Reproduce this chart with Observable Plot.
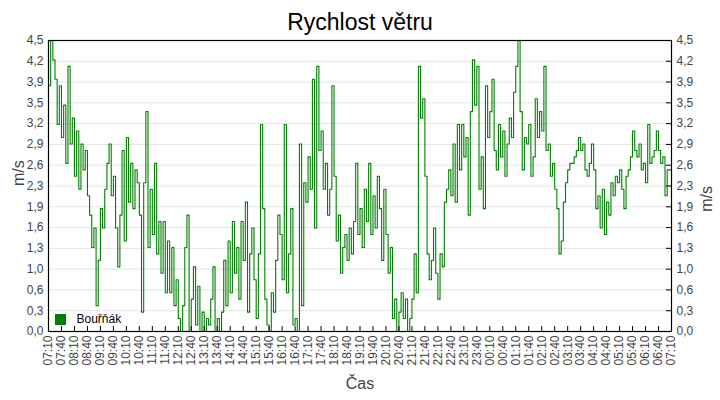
<!DOCTYPE html>
<html>
<head>
<meta charset="utf-8">
<script src="https://cdn.jsdelivr.net/npm/d3@7"></script>
<script src="https://cdn.jsdelivr.net/npm/@observablehq/plot@0.6"></script>
<style>
  body { margin: 0; background: #fff; }
  #chart { width: 720px; height: 400px; }
</style>
</head>
<body>
<div id="chart"></div>
<script>
const title = "Rychlost větru";
const seriesName = "Bouřňák";
const yLabel = "m/s";
const xLabel = "Čas";
const startTime = Date.UTC(2020, 0, 1, 7, 10);
const stepMinutes = 5;

// Wind speed every 5 minutes from 07:10 to 07:10 next day (m/s)
const speeds = [
  3.8,4.5,4.2,3.9,3.2,3.8,3.0,3.5,2.6,4.1,2.9,3.3,
  2.4,3.1,2.2,2.9,2.5,2.8,2.1,1.8,1.3,1.6,0.4,1.1,
  1.9,1.6,2.2,2.6,2.9,2.1,2.4,1.6,1.0,1.8,2.8,1.4,
  3.0,2.0,2.6,1.9,2.5,2.3,1.8,0.3,2.3,3.4,1.3,2.2,
  1.5,2.6,1.2,1.7,0.9,1.7,0.6,1.4,0.6,1.3,0.4,0.8,
  0.2,0.0,0.4,1.3,1.8,0.0,0.5,1.0,0.1,0.7,0.0,0.3,
  0.0,0.2,0.1,0.5,1.0,0.0,0.2,0.0,0.3,1.1,0.4,1.4,
  0.6,1.7,0.9,1.3,0.5,1.7,1.1,2.0,0.3,1.2,1.6,0.8,
  0.2,1.2,3.2,1.9,0.5,0.1,0.0,0.6,0.3,1.1,1.8,1.5,
  0.8,3.2,0.6,1.2,1.9,0.1,0.2,0.0,2.9,0.4,2.3,2.0,
  2.7,2.2,3.9,1.6,4.1,2.8,3.1,2.2,2.6,1.8,2.2,3.8,
  2.4,1.4,1.8,0.9,1.3,1.5,1.1,1.6,1.2,1.7,2.6,1.5,
  1.9,1.3,2.2,1.7,2.6,1.5,2.1,1.6,2.4,1.9,1.1,2.2,
  1.5,0.9,1.3,0.2,0.5,0.0,0.3,0.6,0.2,0.5,0.0,0.2,
  0.5,1.2,0.6,4.1,3.3,3.6,2.4,1.2,0.8,1.1,1.6,0.9,
  0.5,1.2,1.0,2.0,2.2,2.5,2.1,2.9,2.0,3.2,2.5,3.2,
  2.7,3.0,1.8,3.4,4.2,3.5,4.1,2.2,2.7,1.9,3.8,3.0,
  3.4,3.9,2.8,2.5,3.2,2.7,3.1,2.4,2.9,3.3,3.0,3.7,
  4.1,4.5,3.4,2.5,3.0,2.9,3.2,2.4,2.7,3.6,3.0,3.4,
  3.1,4.1,2.8,2.9,2.4,2.6,2.2,1.9,1.2,1.4,2.0,2.3,
  2.5,2.6,2.6,2.7,2.8,3.0,2.8,2.9,2.5,2.4,2.6,2.9,
  2.5,1.9,2.1,1.6,2.2,1.5,2.0,1.8,2.3,2.1,2.4,2.3,
  2.5,2.2,1.9,2.4,2.5,2.7,3.1,2.8,2.7,2.9,2.5,2.6,
  2.3,3.2,2.6,2.7,2.8,3.1,2.8,2.6,2.7,2.1,2.5,2.5,
  2.5
];

const yTickLabels = ["0,0","0,3","0,6","1,0","1,3","1,6","1,9","2,3","2,6","2,9","3,2","3,5","3,9","4,2","4,5"];
const xTickLabels = [
  "07:10","07:40","08:10","08:40","09:10","09:40","10:10","10:40","11:10","11:40",
  "12:10","12:40","13:10","13:40","14:10","14:40","15:10","15:40","16:10","16:40",
  "17:10","17:40","18:10","18:40","19:10","19:40","20:10","20:40","21:10","21:40",
  "22:10","22:40","23:10","23:40","00:10","00:40","01:10","01:40","02:10","02:40",
  "03:10","03:40","04:10","04:40","05:10","05:40","06:10","06:40","07:10"
];
const yMax = 4.5;

const data = speeds.map((v, i) => ({ time: new Date(startTime + i * stepMinutes * 60000), speed: v }));
const yTicks = yTickLabels.map((_, i) => i * yMax / (yTickLabels.length - 1));
const xTicks = xTickLabels.map((_, i) => new Date(startTime + i * 30 * 60000));
const endTime = new Date(startTime + 24 * 60 * 60000);

const chart = Plot.plot({
  width: 720,
  height: 400,
  marginTop: 40,
  marginBottom: 69,
  marginLeft: 48,
  marginRight: 49,
  style: { fontFamily: "'Liberation Sans', Arial, sans-serif", fontSize: "12px", color: "#444", background: "#fff" },
  x: { type: "utc", domain: [new Date(startTime), endTime] },
  y: { domain: [0, yMax] },
  marks: [
    Plot.gridY(yTicks, { stroke: "#e4e4e4", strokeOpacity: 1 }),
    Plot.lineY(data, { x: "time", y: "speed", curve: "step-after", stroke: "#008000", strokeWidth: 1.1 }),
    Plot.frame({ stroke: "#000", strokeWidth: 1.2 }),
    Plot.tickY(yTicks, { y: d => d, insetLeft: 618, stroke: "#000" }),
    Plot.tickX(xTicks, { x: d => d, insetTop: 286, stroke: "#000" }),
    Plot.axisY(yTicks, { anchor: "left", tickSize: 0, tickPadding: 5, tickFormat: (d, i) => yTickLabels[i], label: null, fill: "#444" }),
    Plot.axisY(yTicks, { anchor: "right", tickSize: 0, tickPadding: 5, tickFormat: (d, i) => yTickLabels[i], label: null, fill: "#444" }),
    Plot.axisX(xTicks, { anchor: "bottom", tickSize: 0, tickPadding: 4, tickRotate: -90, tickFormat: (d, i) => xTickLabels[i], label: null, fill: "#444" }),
    Plot.text([yLabel], { frameAnchor: "left", dx: -30, rotate: -90, lineAnchor: "middle", fontSize: 16, fill: "#444" }),
    Plot.text([yLabel], { frameAnchor: "right", dx: 35, rotate: -90, lineAnchor: "middle", fontSize: 16, fill: "#444" }),
    Plot.text([xLabel], { frameAnchor: "bottom", dy: 52, lineAnchor: "middle", fontSize: 16, fill: "#444" }),
    Plot.text([title], { frameAnchor: "top", dy: -18, lineAnchor: "middle", fontSize: 23, fill: "#000" }),
    Plot.dot([seriesName], { frameAnchor: "bottom-left", dx: 12, dy: -12, symbol: "square", r: 6.2, fill: "#008000", stroke: null }),
    Plot.text([seriesName], { frameAnchor: "bottom-left", dx: 28, dy: -12, lineAnchor: "middle", textAnchor: "start", fontSize: 12, fill: "#000" })
  ]
});
document.getElementById("chart").appendChild(chart);
</script>
</body>
</html>
